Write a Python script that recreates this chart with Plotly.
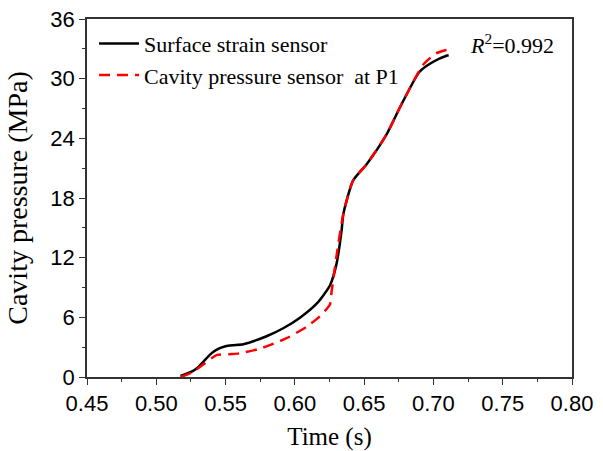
import plotly.graph_objects as go

t_strain = [0.5175, 0.5255, 0.530, 0.535, 0.540, 0.545, 0.550, 0.555, 0.5628, 0.5796, 0.5916, 0.6037,
            0.6157, 0.6253, 0.6301, 0.6337, 0.635, 0.642, 0.6518, 0.6662, 0.6758, 0.690,
            0.6999, 0.7095, 0.711]
p_strain = [0.1, 0.53, 0.95, 1.7, 2.4, 2.85, 3.1, 3.2, 3.3, 4.1, 4.9, 5.96,
            7.37, 9.2, 11.4, 14.7, 16.4, 19.75, 21.4, 24.4, 27.1, 30.7,
            31.7, 32.3, 32.35]

t_cavity = [0.5175, 0.5255, 0.535, 0.5435, 0.553, 0.560, 0.5748, 0.594, 0.6085, 0.618,
            0.6253, 0.6265, 0.6277, 0.630, 0.635, 0.642, 0.6518, 0.6662, 0.6758, 0.6926,
            0.702, 0.7095, 0.711]
p_cavity = [0.0, 0.43, 1.37, 2.2, 2.3, 2.38, 2.85, 3.9, 5.06, 6.1,
            7.3, 8.6, 9.76, 12.1, 16.4, 19.75, 21.4, 24.4, 27.1, 31.4,
            32.55, 32.9, 32.95]

x_ticks = [0.45, 0.50, 0.55, 0.60, 0.65, 0.70, 0.75, 0.80]
y_ticks = [0, 6, 12, 18, 24, 30, 36]

serif = "Liberation Serif"
sans = "Liberation Sans"

fig = go.Figure()
fig.add_trace(go.Scatter(x=t_strain, y=p_strain, mode="lines", name="Surface strain sensor",
                         line=dict(color="black", width=2.5, shape="spline", smoothing=0.6)))
fig.add_trace(go.Scatter(x=t_cavity, y=p_cavity, mode="lines", name="Cavity pressure sensor  at P1",
                         line=dict(color="#ff0000", width=2.5, dash="11px,7px", shape="spline", smoothing=0.6)))

axis_common = dict(showline=True, linecolor="#333333", linewidth=1.5, mirror=True,
                   ticks="outside", ticklen=6, tickwidth=1.2, tickcolor="#333333",
                   showgrid=False, zeroline=False, automargin=False,
                   tickfont=dict(family=sans, size=22, color="black"))

fig.update_xaxes(range=[0.45, 0.80], tickvals=x_ticks,
                 ticktext=[f"{v:.2f}" for v in x_ticks],
                 minor=dict(ticks="outside", ticklen=3, dtick=0.025, tick0=0.45, tickcolor="#333333"),
                 title=dict(text="Time (s)", font=dict(family=serif, size=25, color="black")),
                 **axis_common)
fig.update_yaxes(range=[0, 36], tickvals=y_ticks,
                 minor=dict(ticks="outside", ticklen=3, dtick=3, tick0=0, tickcolor="#333333"),
                 title=dict(text="Cavity pressure (MPa)", font=dict(family=serif, size=28, color="black")),
                 **axis_common)

fig.add_annotation(x=0.968, y=0.975, xref="paper", yref="paper", xanchor="right", yanchor="top",
                   text="<i>R</i><sup>2</sup>=0.992", showarrow=False,
                   font=dict(family=serif, size=22, color="black"))

fig.update_layout(width=603, height=451, plot_bgcolor="white", paper_bgcolor="white",
                  margin=dict(l=87, r=31, t=19, b=74),
                  legend=dict(x=0.0145, y=0.99, xanchor="left", yanchor="top", bgcolor="rgba(0,0,0,0)",
                              font=dict(family=serif, size=22, color="black"), tracegroupgap=0,
                              itemwidth=40),
                  showlegend=True)

fig.write_html("out.html", config={"displayModeBar": False})

# remove default page margin so the figure sits at the top-left corner
with open("out.html", "r", encoding="utf-8") as f:
    html = f.read()
html = html.replace("<head>", "<head><style>html,body{margin:0;padding:0;overflow:hidden;}</style>", 1)
with open("out.html", "w", encoding="utf-8") as f:
    f.write(html)
